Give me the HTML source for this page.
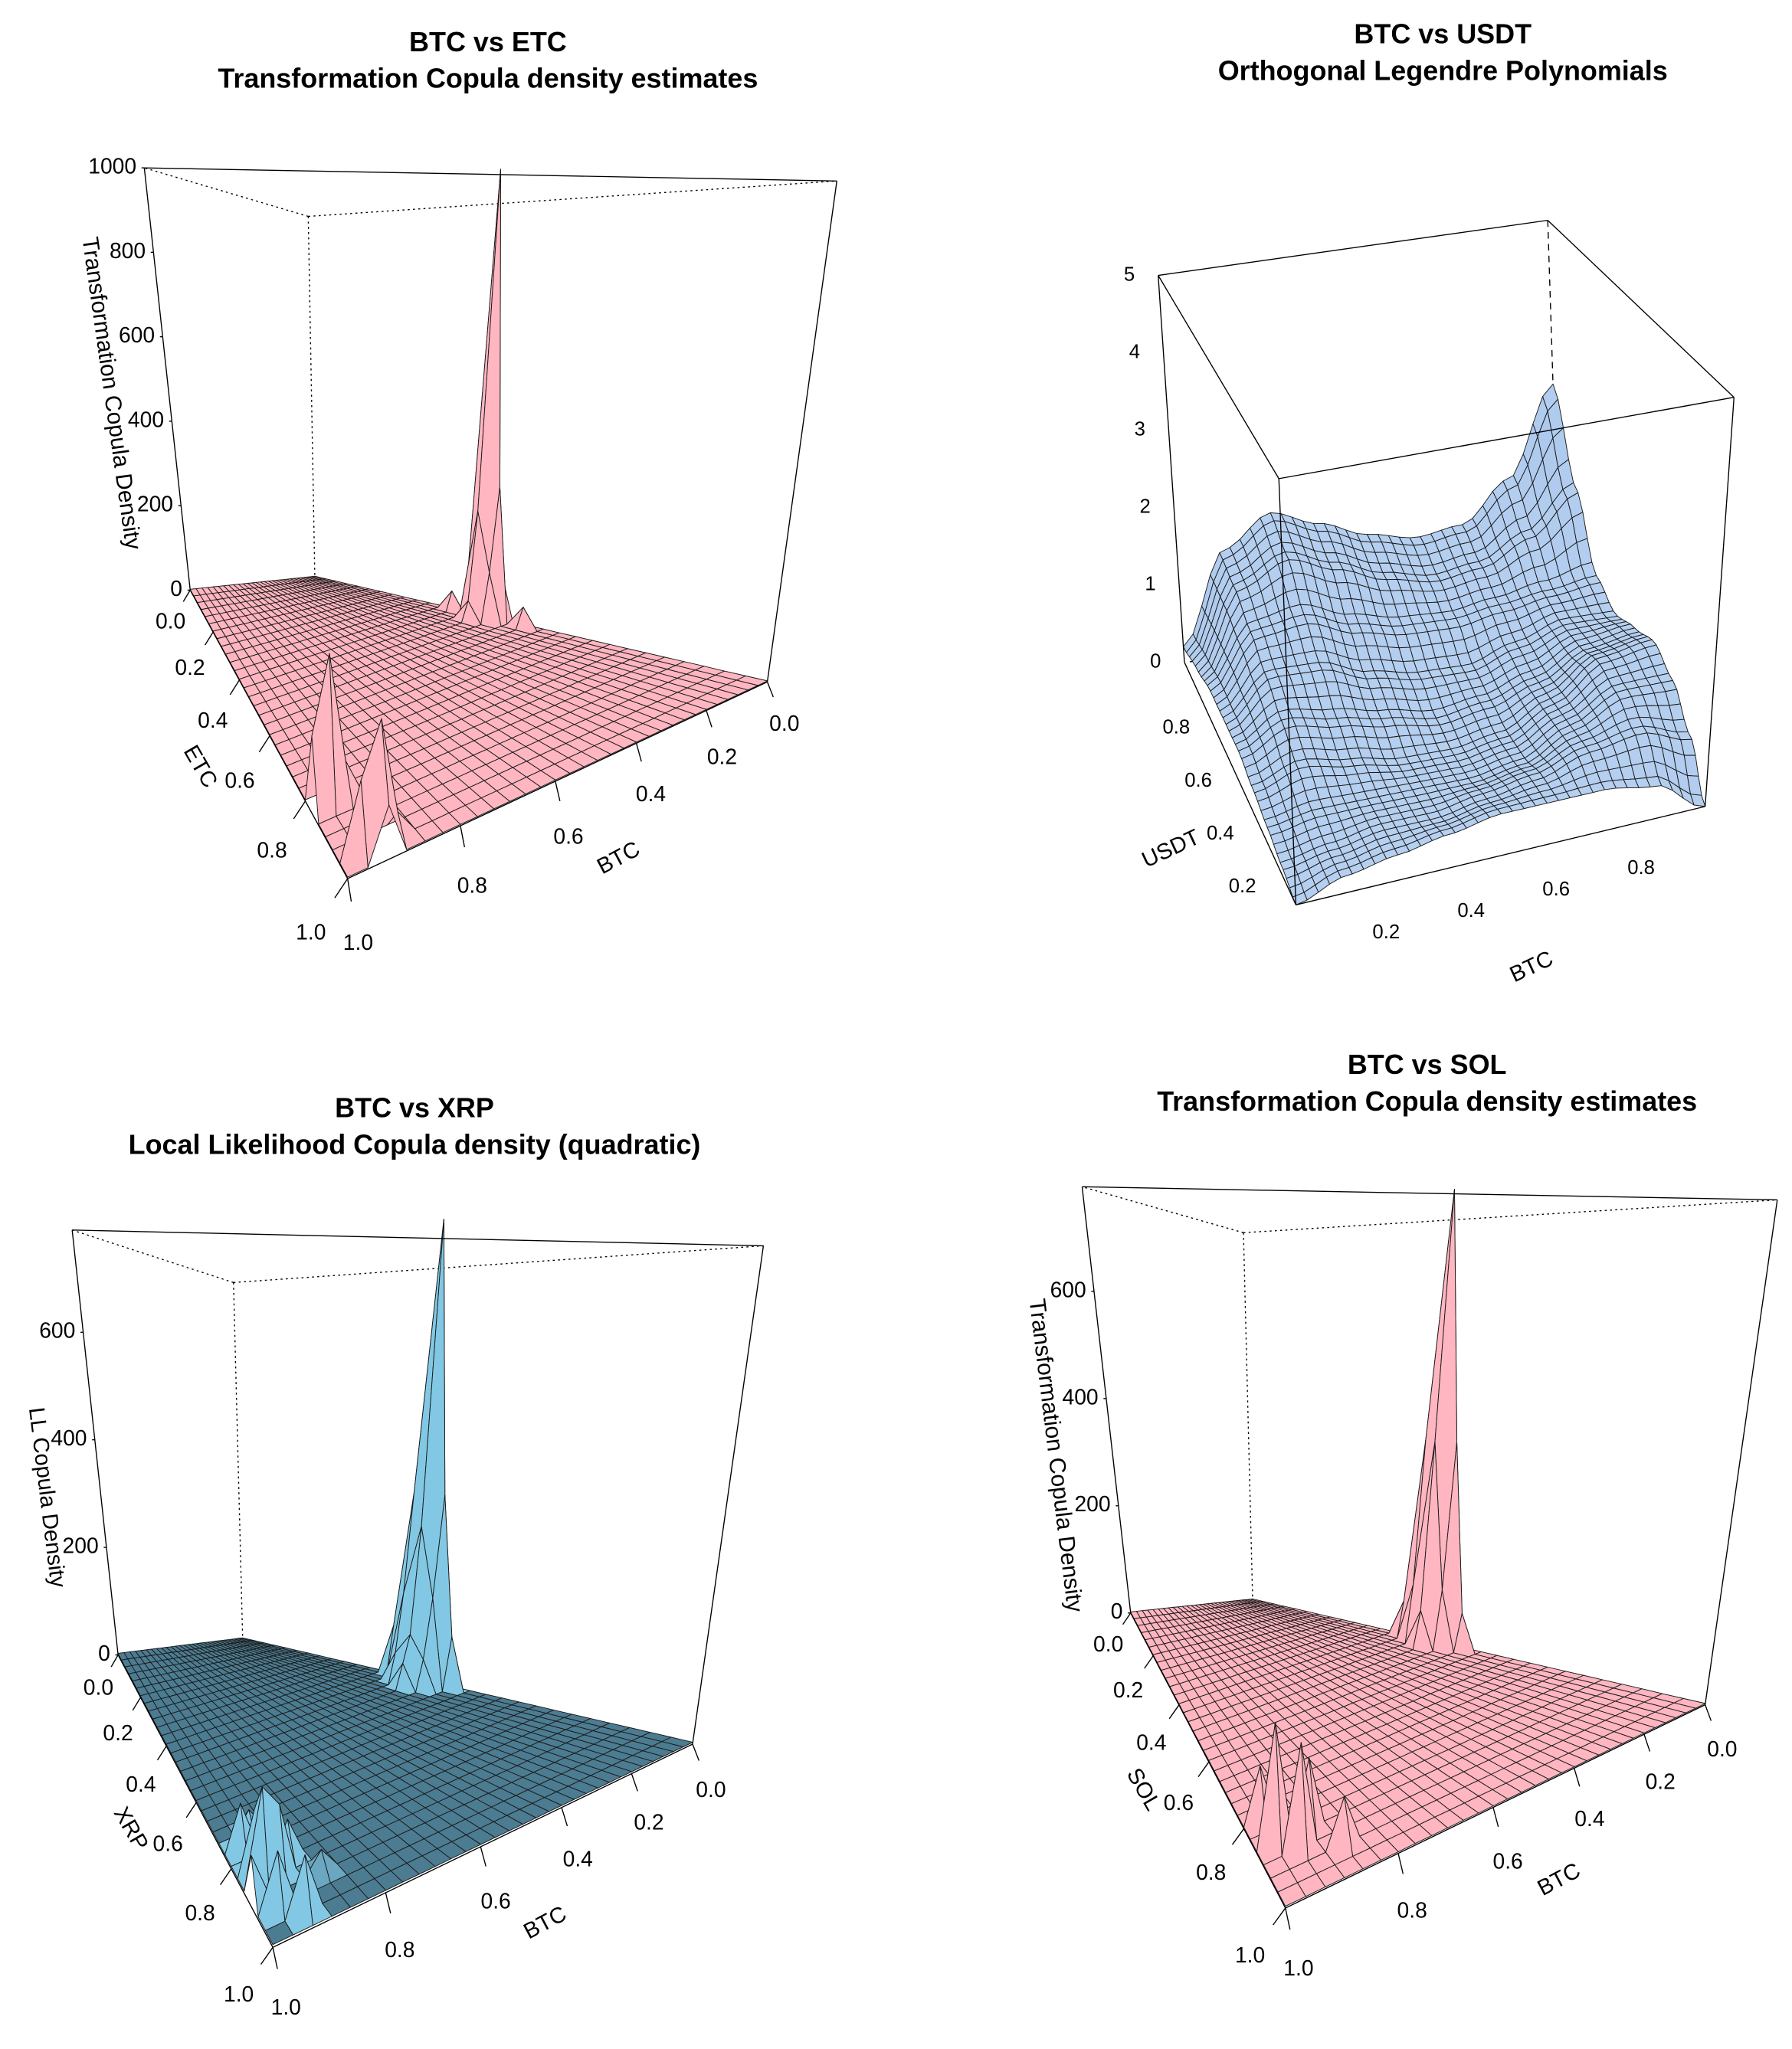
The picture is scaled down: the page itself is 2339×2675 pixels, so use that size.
<!DOCTYPE html>
<html><head><meta charset="utf-8">
<style>html,body{margin:0;padding:0;background:#fff}svg{display:block}</style></head>
<body>
<svg id="root" width="2339" height="2675" viewBox="0 0 1366.2 1562.5" xmlns="http://www.w3.org/2000/svg" font-family="Liberation Sans, Arial, sans-serif">
<rect width="1366.2" height="1562.5" fill="#fff"/>
<g font-weight="bold" font-size="21" text-anchor="middle">
<text x="372" y="39">BTC vs ETC</text><text x="372" y="67">Transformation Copula density estimates</text></g>
<g font-weight="bold" font-size="21" text-anchor="middle">
<text x="1100" y="33">BTC vs USDT</text><text x="1100" y="61">Orthogonal Legendre Polynomials</text></g>
<g font-weight="bold" font-size="21" text-anchor="middle">
<text x="316" y="852">BTC vs XRP</text><text x="316" y="880">Local Likelihood Copula density (quadratic)</text></g>
<g font-weight="bold" font-size="21" text-anchor="middle">
<text x="1088" y="819">BTC vs SOL</text><text x="1088" y="847">Transformation Copula density estimates</text></g>
<g id="plots"></g>
</svg>
<script>
// ---- data ----
const p1PeakU=[0.03,0.0,0.07,0.03,0.03,0.07,0.0,0.07,0.0,0.1,0.03,0.03,0.97,1.0,0.93,0.93,0.97,0.93,0.9];
const p1PeakV=[0.48,0.48,0.48,0.45,0.51,0.45,0.45,0.51,0.51,0.48,0.55,0.41,0.84,0.84,0.84,0.97,0.97,1.0,0.97];
const p1PeakZ=[1080,420,260,320,320,120,120,120,120,50,50,50,240,120,60,190,110,80,40];
const p3PeakU=[0.03,0.0,0.07,0.03,0.03,0.07,0.07,0.0,0.0,0.1,0.03,0.03,0.13,0.1,0.1,0.97,0.93,0.97,0.9,0.93,1.0,0.87,0.93,0.97,0.97,0.93];
const p3PeakV=[0.51,0.51,0.51,0.48,0.54,0.48,0.54,0.48,0.54,0.51,0.57,0.44,0.51,0.54,0.48,0.87,0.87,0.83,0.83,0.8,0.9,0.9,0.97,0.77,0.93,0.73];
const p3PeakZ=[880,380,300,360,360,170,170,150,150,100,100,100,50,60,60,120,90,80,50,40,60,30,70,60,70,30];
const p4PeakU=[0.03,0.0,0.07,0.03,0.03,0.07,0.07,0.0,0.0,0.1,0.03,0.03,0.97,0.93,0.9,0.97,0.87];
const p4PeakV=[0.49,0.49,0.49,0.46,0.53,0.46,0.53,0.46,0.53,0.49,0.56,0.43,0.87,0.9,0.87,0.8,0.93];
const p4PeakZ=[850,400,380,380,380,110,110,110,110,70,70,70,150,130,90,70,60];
const p2Grid=[
[0.0,0.2,0.3,0.4,0.5,0.5,0.5,0.4,0.0],
[0.1,0.2,0.3,0.3,0.4,0.5,0.7,0.8,0.6],
[0.2,0.3,0.3,0.3,0.3,0.4,0.7,1.0,1.0],
[0.3,0.5,0.4,0.3,0.3,0.4,0.7,1.1,1.2],
[0.4,0.7,0.6,0.5,0.4,0.5,0.7,1.0,1.1],
[0.4,0.9,0.9,0.7,0.6,0.6,0.8,1.0,1.0],
[0.4,1.1,1.2,1.0,0.9,0.9,1.0,1.1,1.2],
[0.3,1.3,1.6,1.4,1.2,1.1,1.2,1.5,2.0],
[0.2,1.4,1.8,1.6,1.4,1.3,1.4,1.9,3.0]];
const ticks01=[0,0.2,0.4,0.6,0.8,1];
const ticksInner=[0.2,0.4,0.6,0.8];
const ticksZ1=[0,200,400,600,800,1000];
const ticksZ2=[0,1,2,3,4,5];
const ticksZ3=[0,200,400,600];
const ticksZ4=[0,200,400,600];

const NS='http://www.w3.org/2000/svg';
const root=document.getElementById('plots');
function mk(tag,attrs,parent){const e=document.createElementNS(NS,tag);for(const k in attrs)e.setAttribute(k,attrs[k]);(parent||root).appendChild(e);return e;}
function lerp(a,b,t){return [a[0]+(b[0]-a[0])*t,a[1]+(b[1]-a[1])*t];}
function bil(c,p,u,v){const a=c[p+'00'],b=c[p+'10'],d=c[p+'01'],e=c[p+'11'];
 return [(1-u)*(1-v)*a[0]+u*(1-v)*b[0]+(1-u)*v*d[0]+u*v*e[0],(1-u)*(1-v)*a[1]+u*(1-v)*b[1]+(1-u)*v*d[1]+u*v*e[1]];}
function warp(k,t){return t/(k-(k-1)*t);}
function proj(c,u,v,z){const uu=warp(c.k,u),vv=warp(c.k,v);return lerp(bil(c,'b',uu,vv),bil(c,'t',uu,vv),z/c.zmax);}
function fmt(x){return x.toFixed(1);}

function peakGrid(N,base,U,V,Z){const g=[];for(let j=0;j<=N;j++){g.push([]);for(let i=0;i<=N;i++)g[j].push(base);}
 for(let k=0;k<U.length;k++){const i=Math.round(U[k]*N),j=Math.round(V[k]*N);g[j][i]=Math.max(g[j][i],Z[k]);}return g;}
function upGrid(src,N){const M=src.length-1,g=[];for(let j=0;j<=N;j++){g.push([]);for(let i=0;i<=N;i++){
 const x=i/N*M,y=j/N*M,i0=Math.min(M-1,Math.floor(x)),j0=Math.min(M-1,Math.floor(y)),fx=x-i0,fy=y-j0;
 const sx=fx*fx*(3-2*fx),sy=fy*fy*(3-2*fy);
 g[j].push(src[j0][i0]*(1-sx)*(1-sy)+src[j0][i0+1]*sx*(1-sy)+src[j0+1][i0]*(1-sx)*sy+src[j0+1][i0+1]*sx*sy);}}return g;}
function hex(c){return '#'+c.map(x=>Math.round(x).toString(16).padStart(2,'0')).join('');}
function mix(a,b,t){return [a[0]+(b[0]-a[0])*t,a[1]+(b[1]-a[1])*t,a[2]+(b[2]-a[2])*t];}

function drawPlot(c){
 const g=mk('g',{});
 
 
 const hid=mk('g',{stroke:'#000','stroke-width':0.8,'stroke-dasharray':c.dash,fill:'none'},g);
 
 
 c.hidden.forEach(e=>{const a=c[e[0]],b=c[e[1]];mk('line',{x1:a[0],y1:a[1],x2:b[0],y2:b[1]},hid);});
 const s=mk('g',{stroke:'#1a1a1a','stroke-width':0.55,'stroke-linejoin':'round'},g);
 
 
 const G=c.grid,N=G.length-1,cells=[];
 for(let j=0;j<N;j++)for(let i=0;i<N;i++)cells.push([i,j]);
 cells.sort((a,b)=>c.backFirst*((a[0]+a[1])-(b[0]+b[1])));
 cells.forEach(([i,j])=>{
  const z=[G[j][i],G[j][i+1],G[j+1][i+1],G[j+1][i]];
  const pts=[proj(c,i/N,j/N,z[0]),proj(c,(i+1)/N,j/N,z[1]),proj(c,(i+1)/N,(j+1)/N,z[2]),proj(c,i/N,(j+1)/N,z[3])];
  const t=Math.min(1,(Math.max(...z)-Math.min(...z))/(c.zmax*c.steep));
  mk('polygon',{points:pts.map(p=>fmt(p[0])+','+fmt(p[1])).join(' '),fill:hex(mix(c.flat,c.steepCol,t))},s);
 });
 const vis=mk('g',{stroke:'#000','stroke-width':0.8,fill:'none'},g);
 
 
 c.visible.forEach(e=>{const a=c[e[0]],b=c[e[1]];mk('line',{x1:a[0],y1:a[1],x2:b[0],y2:b[1]},vis);});
 c.axes.forEach(ax=>{
  const ag=mk('g',{'font-size':c.fs||16.5,fill:'#000'},g);
  
  
  ax.ticks.forEach(tv=>{
   const p=ax.pt(tv),f=ax.frac(tv),o=lerp(ax.o0,ax.o1,f);
   if(!c.noTicks) mk('line',{x1:p[0],y1:p[1],x2:p[0]+o[0]*0.35,y2:p[1]+o[1]*0.35,stroke:'#000','stroke-width':0.8},ag);
   const tx=mk('text',{x:p[0]+o[0],y:p[1]+o[1],'text-anchor':ax.anchor||'middle','dominant-baseline':'middle'},ag);
   tx.textContent=ax.fmt(tv);
  });
 });
 c.labels.forEach(l=>{
  const t=mk('text',{x:l.x,y:l.y,'font-size':l.fs||17,'text-anchor':'middle','dominant-baseline':'middle',transform:`rotate(${l.r} ${l.x} ${l.y})`},g);
  
  
  t.textContent=l.text;
 });
}
const f1=v=>v.toFixed(1), fi=v=>String(v);
function stdAxes(c,otherName,zt){return [
 {name:otherName+'-axis-ticks',ticks:ticks01,pt:v=>proj(c,1,v,0),frac:v=>v,o0:c.oA0,o1:c.oA1,fmt:f1},
 {name:'btc-axis-ticks-'+otherName,ticks:ticks01,pt:u=>proj(c,u,1,0),frac:u=>u,o0:c.oB0,o1:c.oB1,fmt:f1},
 {name:'z-axis-ticks-'+otherName,ticks:zt,pt:z=>proj(c,1,0,z),frac:()=>0,o0:[-6,0],o1:[-6,0],fmt:fi,anchor:'end'}];}
const PINK=[255,182,193];
const c1={name:'plot-btc-etc',k:1.47,zmax:1000,b00:[240,440],b10:[145,450],b11:[265,670],b01:[585,520],t00:[235,165],t10:[110,128],t11:[275,131],t01:[638,138],
 dash:'1.5,2.5',backFirst:1,steep:1,flat:PINK,steepCol:PINK,oA0:[-15,25],oA1:[-28,42],oB0:[13,33],oB1:[8,50]};
c1.grid=peakGrid(30,2,p1PeakU,p1PeakV,p1PeakZ);
c1.hidden=[['t00','t10'],['t00','t01'],['t00','b00']];
c1.visible=[['t10','t01'],['t10','b10'],['t01','b01'],['b10','b11'],['b11','b01']];
c1.axes=stdAxes(c1,'etc',ticksZ1);
c1.labels=[{name:'z-axis-title-etc',text:'Transformation Copula Density',x:84,y:300,r:82,fs:17.5},{name:'etc-axis-title',text:'ETC',x:152,y:585,r:60},{name:'btc-axis-title-etc',text:'BTC',x:472,y:655,r:-28}];
drawPlot(c1);
const c3={name:'plot-btc-xrp',k:1.47,zmax:790,b00:[185,1250],b10:[90,1262],b11:[208,1485],b01:[528,1330],t00:[178,978],t10:[55,938],t11:[215,943],t01:[582,950],
 dash:'1.5,2.5',backFirst:1,steep:0.06,flat:[76,124,145],steepCol:[130,200,228],oA0:[-15,26],oA1:[-26,37],oB0:[14,36],oB1:[10,47]};
c3.grid=peakGrid(30,3,p3PeakU,p3PeakV,p3PeakZ);
c3.hidden=c1.hidden;c3.visible=c1.visible;
c3.axes=stdAxes(c3,'xrp',ticksZ3);
c3.labels=[{name:'z-axis-title-xrp',text:'LL Copula Density',x:35,y:1142,r:83,fs:17},{name:'xrp-axis-title',text:'XRP',x:99,y:1395,r:60},{name:'btc-axis-title-xrp',text:'BTC',x:416,y:1467,r:-28}];
drawPlot(c3);
const c4={name:'plot-btc-sol',k:1.47,zmax:795,b00:[955,1220],b10:[862,1230],b11:[980,1455],b01:[1300,1300],t00:[948,940],t10:[825,905],t11:[990,910],t01:[1355,915],
 dash:'1.5,2.5',backFirst:1,steep:1,flat:PINK,steepCol:PINK,oA0:[-17,25],oA1:[-27,37],oB0:[13,35],oB1:[10,47]};
c4.grid=peakGrid(30,2,p4PeakU,p4PeakV,p4PeakZ);
c4.hidden=c1.hidden;c4.visible=c1.visible;
c4.axes=stdAxes(c4,'sol',ticksZ4);
c4.labels=[{name:'z-axis-title-sol',text:'Transformation Copula Density',x:804,y:1110,r:83,fs:17.5},{name:'sol-axis-title',text:'SOL',x:871,y:1365,r:60},{name:'btc-axis-title-sol',text:'BTC',x:1189,y:1434,r:-28}];
drawPlot(c4);
const c2={name:'plot-btc-usdt',k:1,zmax:5,b00:[988,690],b10:[1300,615],b11:[1190,480],b01:[903,505],t00:[975,365],t10:[1322,303],t11:[1180,168],t01:[883,210],
 dash:'5,4',backFirst:-1,steep:0.5,flat:[182,208,240],steepCol:[140,176,226],noTicks:true,fs:15};
c2.grid=upGrid(p2Grid,36);
c2.hidden=[['t11','b11'],['b11','b10'],['b11','b01']];
c2.visible=[['t00','t10'],['t10','t11'],['t11','t01'],['t01','t00'],['t00','b00'],['t10','b10'],['t01','b01'],['b00','b10'],['b00','b01']];
c2.axes=[
 {name:'usdt-axis-ticks',ticks:ticksInner,pt:v=>proj(c2,0,v,0),frac:v=>v,o0:[-24,27],o1:[-23,10],fmt:f1},
 {name:'btc-axis-ticks-usdt',ticks:ticksInner,pt:u=>proj(c2,u,0,0),frac:u=>u,o0:[4,38],o1:[16,31],fmt:f1},
 {name:'z-axis-ticks-usdt',ticks:ticksZ2,pt:z=>proj(c2,0,1,z),frac:()=>0,o0:[-22,0],o1:[-22,0],fmt:fi,anchor:'middle'}];
c2.labels=[{name:'usdt-axis-title',text:'USDT',x:893,y:648,r:-25},{name:'btc-axis-title-usdt',text:'BTC',x:1168,y:738,r:-25}];
drawPlot(c2);
</script>
</body></html>
